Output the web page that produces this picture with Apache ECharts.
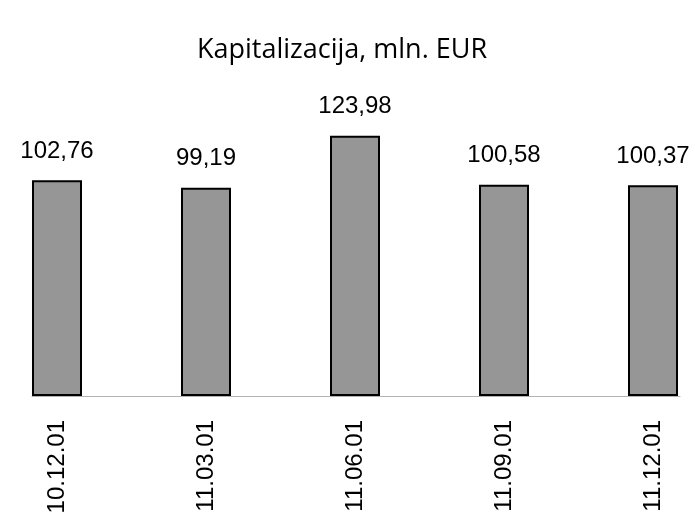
<!DOCTYPE html>
<html>
<head>
<meta charset="utf-8">
<script src="https://cdn.jsdelivr.net/npm/echarts@6/dist/echarts.min.js"></script>
<style>
	html, body { margin: 0; padding: 0; background: #fff; }
	#chart { width: 695px; height: 516px; }
</style>
</head>
<body>
<div id="chart"></div>
<script>
var chartTitle = "Kapitalizacija, mln. EUR";
var categories = ["10.12.01", "11.03.01", "11.06.01", "11.09.01", "11.12.01"];
var values = [102.76, 99.19, 123.98, 100.58, 100.37];
// second (empty) series, keeps the bar on the left side of each category
var emptyValues = ["-", "-", "-", "-", "-"];

var chart = echarts.init(document.getElementById("chart"));

var option = {
	animation: false,
	title: {
		text: chartTitle,
		left: 337,
		textAlign: "center",
		top: 32,
		textStyle: {
			fontFamily: "Open Sans",
			fontSize: 27,
			fontWeight: "normal",
			color: "#000"
		}
	},
	grid: [
		{
			left: 32,
			width: 745,
			top: 81,
			bottom: 120,
			containLabel: false,
			outerBoundsMode: "none"
		},
		{
			// only for the visible part of the base line
			left: 32,
			width: 648,
			top: 81,
			bottom: 120,
			containLabel: false,
			outerBoundsMode: "none"
		}
	],
	xAxis: [
		{
			type: "category",
			data: categories,
			boundaryGap: true,
			axisLine: { show: false },
			axisTick: {
				length: 8,
				lineStyle: { color: "#b4b4b4" }
			},
			axisLabel: {
				interval: 0,
				rotate: 90,
				margin: 24,
				// empty second line pushes the text to the left, under the bar
				formatter: function (v) {
					return "{v|" + v + "}\n{s| }";
				},
				rich: {
					v: {
						fontFamily: "Liberation Sans",
						fontSize: 24,
						lineHeight: 24,
						color: "#000"
					},
					s: {
						fontSize: 10,
						lineHeight: 98
					}
				}
			}
		},
		{
			gridIndex: 1,
			type: "category",
			data: categories,
			axisLine: {
				lineStyle: { color: "#b4b4b4", width: 1 }
			},
			axisTick: { show: false },
			axisLabel: { show: false }
		}
	],
	yAxis: [
		{
			type: "value",
			min: 0,
			max: 150,
			show: false
		},
		{
			gridIndex: 1,
			type: "value",
			min: 0,
			max: 150,
			show: false
		}
	],
	series: [
		{
			name: "Kapitalizacija",
			type: "bar",
			barWidth: 50,
			barGap: "98%",
			data: values,
			z: 3,
			itemStyle: {
				color: "#969696",
				borderColor: "#000",
				borderWidth: 2
			},
			label: {
				show: true,
				position: "top",
				distance: 17,
				fontFamily: "Liberation Sans",
				fontSize: 24,
				color: "#000",
				formatter: function (p) {
					return p.value.toFixed(2).replace(".", ",");
				}
			}
		},
		{
			name: "empty",
			type: "bar",
			barWidth: 50,
			data: emptyValues
		}
	]
};

chart.setOption(option);
</script>
</body>
</html>
